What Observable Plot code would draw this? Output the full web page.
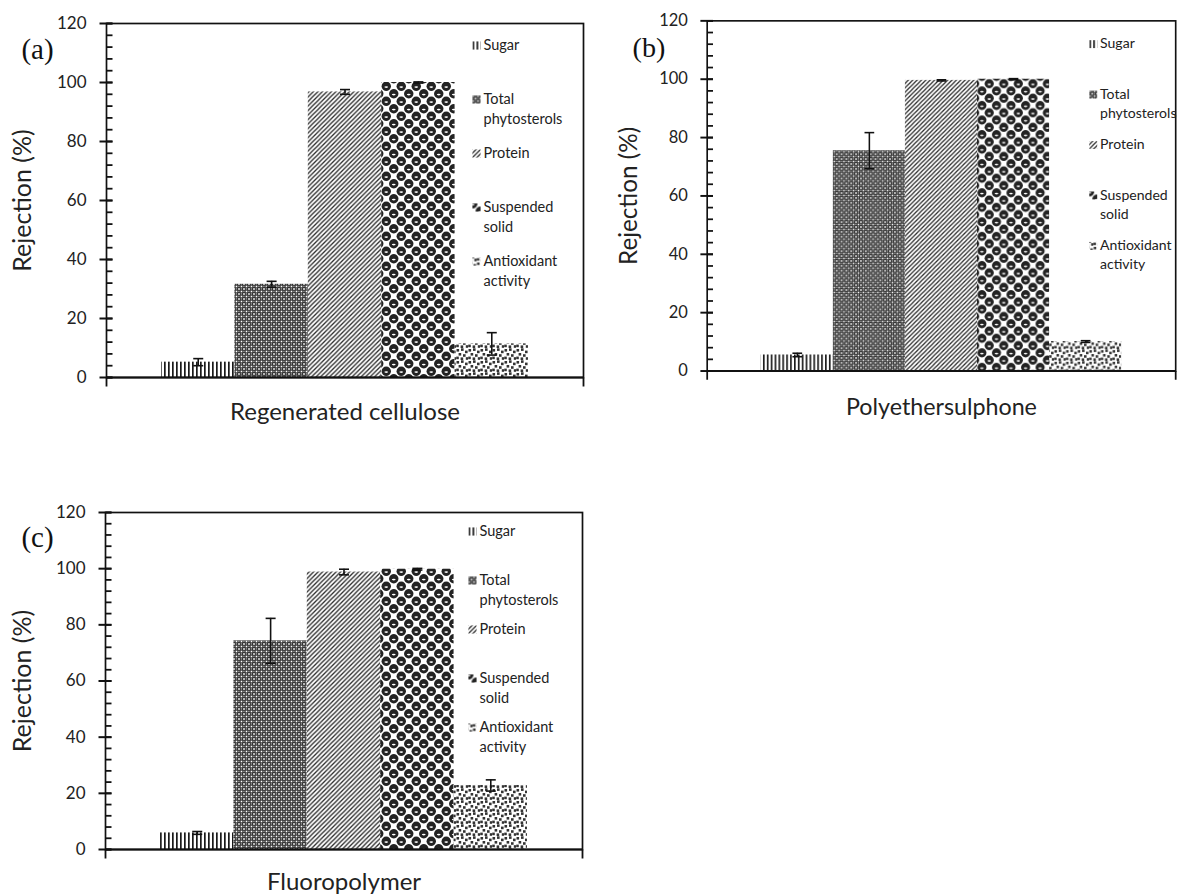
<!DOCTYPE html>
<html><head><meta charset="utf-8">
<script src="https://cdn.jsdelivr.net/npm/d3@7"></script>
<script src="https://cdn.jsdelivr.net/npm/@observablehq/plot@0.6"></script>
<style>
html,body{margin:0;padding:0;background:#fff;overflow:hidden;}
#root{position:relative;width:1182px;height:895px;overflow:hidden;background:#fff;}
.panel{position:absolute;}
.panel svg{overflow:visible;}
</style></head><body>
<svg width="0" height="0" style="position:absolute">
<defs>
  <pattern id="pSugar" width="4" height="4" patternUnits="userSpaceOnUse">
    <rect width="4" height="4" fill="#fff"/>
    <rect x="0" y="0" width="1.7" height="4" fill="#1a1a1a"/>
  </pattern>
  <pattern id="pPhyto" width="5" height="5" patternUnits="userSpaceOnUse">
    <rect width="5" height="5" fill="#333"/>
    <rect x="0.7" y="0.7" width="1.6" height="1.6" fill="#fff"/>
    <rect x="3.2" y="3.2" width="1.6" height="1.6" fill="#fff"/>
    <rect x="3.3" y="0.8" width="1.2" height="1.2" fill="#aaa"/>
    <rect x="0.8" y="3.3" width="1.2" height="1.2" fill="#aaa"/>
  </pattern>
  <pattern id="pProt" width="4.5" height="4.5" patternUnits="userSpaceOnUse">
    <rect width="4.5" height="4.5" fill="#fff"/>
    <path d="M-1,1 L1,-1 M0,4.5 L4.5,0 M3.5,5.5 L5.5,3.5" stroke="#2a2a2a" stroke-width="1.3"/>
  </pattern>
  <pattern id="pSS" width="15" height="15" patternUnits="userSpaceOnUse">
    <rect width="15" height="15" fill="#fff"/>
    <g fill="#232323">
      <circle cx="3.75" cy="3.75" r="4.7"/>
      <circle cx="18.75" cy="3.75" r="4.7"/>
      <circle cx="3.75" cy="18.75" r="4.7"/>
      <circle cx="18.75" cy="18.75" r="4.7"/>
      <circle cx="11.25" cy="11.25" r="4.7"/>
      <circle cx="-3.75" cy="11.25" r="4.7"/>
      <circle cx="11.25" cy="-3.75" r="4.7"/>
    </g>
    <g fill="#fff">
      <ellipse cx="3.75" cy="4.6" rx="1.9" ry="0.8"/>
      <ellipse cx="11.25" cy="12.1" rx="1.9" ry="0.8"/>
    </g>
  </pattern>
  <pattern id="pAO" width="12" height="12" patternUnits="userSpaceOnUse">
    <rect width="12" height="12" fill="#fff"/>
    <g fill="#333">
      <rect x="0.5" y="1" width="2.6" height="2.6"/>
      <rect x="5" y="0.3" width="2.6" height="2.6"/>
      <rect x="9" y="2.6" width="2.6" height="2.6"/>
      <rect x="2.6" y="5" width="2.6" height="2.6"/>
      <rect x="7" y="6.2" width="2.6" height="2.6"/>
      <rect x="0.2" y="8.6" width="2.6" height="2.6"/>
      <rect x="4.6" y="9.4" width="2.6" height="2.6"/>
      <rect x="9.8" y="9.2" width="2.2" height="2.6"/>
    </g>
  </pattern>
</defs></svg>
<div id="root"></div>
<script>
// ---- data ----
const series = ["Sugar", "Total phytosterols", "Protein", "Suspended solid", "Antioxidant activity"];
const legendLabels = ["Sugar", "Total\nphytosterols", "Protein", "Suspended\nsolid", "Antioxidant\nactivity"];
const membranes = ["Regenerated cellulose", "Polyethersulphone", "Fluoropolymer"];
const panelTags = ["(a)", "(b)", "(c)"];
const rcValues  = [5.2, 31.6, 96.8, 100.0, 11.4];
const rcErrors  = [1.2, 1.0, 0.8, 0.2, 3.8];
const pesValues = [5.5, 75.5, 99.6, 100.0, 10.1];
const pesErrors = [0.6, 6.2, 0.2, 0.2, 0.3];
const fpValues  = [5.9, 74.3, 98.8, 99.8, 22.8];
const fpErrors  = [0.5, 8.0, 1.0, 0.3, 2.0];
const yTicks = [0, 20, 40, 60, 80, 100, 120];
const yMinorTicks = d3.range(0, 121, 4);

// ---- style ----
const patternFills = ["url(#pSugar)", "url(#pPhyto)", "url(#pProt)", "url(#pSS)", "url(#pAO)"];
const gap = 0.75;
const xDomain = [0, series.length + 2 * gap];
const sans = "Lato, 'Open Sans', sans-serif";
const segment = (x0, y0, x1, y1) => ({draw(ctx) { ctx.moveTo(x0, y0); ctx.lineTo(x1, y1); }});
const capSymbol = segment(-5, 0, 5, 0);
const majorTickSymbol = segment(-7, 0, 6, 0);
const minorTickSymbol = segment(0, 0, 6, 0);
const edgeTickSymbol = segment(0, 0, 0, 9);
const ink = "#111";

function panel(cfg) {
  const rows = series.map((s, i) => ({s, i, v: cfg.values[i], e: cfg.errors[i], fill: patternFills[i]}));
  const xc = d => gap + d.i + 0.5;
  const marks = [
    Plot.rectY(rows, {x1: d => gap + d.i, x2: d => gap + d.i + 1, y1: 0, y2: d => d.v, fill: d => d.fill}),
    Plot.ruleX(rows, {x: xc, y1: d => d.v - d.e, y2: d => d.v + d.e, stroke: ink, strokeWidth: 1.6}),
    Plot.dot(rows, {x: xc, y: d => d.v + d.e, symbol: capSymbol, stroke: ink, strokeWidth: 1.6, fill: "none"}),
    Plot.dot(rows, {x: xc, y: d => d.v - d.e, symbol: capSymbol, stroke: ink, strokeWidth: 1.6, fill: "none"}),
    Plot.frame({stroke: ink, strokeWidth: 1.7}),
    Plot.ruleY([0], {y: d => d, stroke: ink, strokeWidth: 2.2}),
    Plot.dot(xDomain, {x: d => d, y: () => 0, symbol: edgeTickSymbol, stroke: ink, strokeWidth: 1.8, fill: "none"}),
    Plot.dot(yTicks, {x: () => xDomain[0], y: d => d, symbol: majorTickSymbol, stroke: ink, strokeWidth: 2, fill: "none"}),
    Plot.dot(yMinorTicks, {x: () => xDomain[0], y: d => d, symbol: minorTickSymbol, stroke: ink, strokeWidth: 1.8, fill: "none"}),
    Plot.axisY({ticks: yTicks, tickSize: 7, tickPadding: 13, fontSize: 17, fill: "#222", stroke: "none", label: null}),
    Plot.text([cfg.membrane], {text: d => d, frameAnchor: "bottom", textAnchor: "middle", lineAnchor: "middle", dy: cfg.xlabDy, fontSize: 24, fill: "#222"}),
    Plot.text(["Rejection (%)"], {text: d => d, frameAnchor: "left", textAnchor: "middle", lineAnchor: "middle", dx: cfg.ylabDx, rotate: -90, fontSize: 25, fill: "#222"}),
    Plot.text([cfg.tag], {text: d => d, frameAnchor: "top-left", textAnchor: "middle", lineAnchor: "middle", dx: cfg.tagDx, dy: cfg.tagDy, fontSize: 29, fontFamily: "'Liberation Serif', serif", fill: "#111"}),
    ...legendLabels.flatMap((lab, i) => [
      Plot.dot([lab], {frameAnchor: "top-left", dx: cfg.lg.sx, dy: cfg.lg.y0 + i * cfg.lg.step, symbol: "square", r: 4.6, fill: () => patternFills[i]}),
      Plot.text([lab], {text: d => d, frameAnchor: "top-left", dx: cfg.lg.tx, dy: cfg.lg.y0 + i * cfg.lg.step - 10, textAnchor: "start", lineAnchor: "top", lineHeight: 1.38, fontSize: 14.5, fill: "#222"})
    ])
  ];
  const svg = Plot.plot({
    width: cfg.width, height: cfg.height,
    marginLeft: cfg.m[0], marginRight: cfg.m[1], marginTop: cfg.m[2], marginBottom: cfg.m[3],
    x: {domain: xDomain, axis: null},
    y: {domain: [0, 120], axis: null},
    color: {type: "identity"},
    style: {fontFamily: sans, background: "transparent", overflow: "visible"},
    marks
  });
  const div = document.createElement("div");
  div.className = "panel";
  div.style.left = cfg.left + "px";
  div.style.top = cfg.top + "px";
  div.appendChild(svg);
  document.getElementById("root").appendChild(div);
}

panel({values: rcValues, errors: rcErrors, membrane: membranes[0], tag: panelTags[0],
  left: 0, top: 0, width: 600, height: 440, m: [106, 17, 23, 63],
  xlabDy: 35, ylabDx: -84, tagDx: -69, tagDy: 26,
  lg: {sx: 370, tx: 377, y0: 22, step: 54}});
panel({values: pesValues, errors: pesErrors, membrane: membranes[1], tag: panelTags[1],
  left: 600, top: 0, width: 600, height: 440, m: [110, 7, 21, 58],
  xlabDy: 38, ylabDx: -80, tagDx: -60, tagDy: 28,
  lg: {sx: 398, tx: 405, y0: 24, step: 52}});
panel({values: fpValues, errors: fpErrors, membrane: membranes[2], tag: panelTags[2],
  left: 0, top: 440, width: 600, height: 455, m: [105, 18, 72, 46],
  xlabDy: 33, ylabDx: -83, tagDx: -68, tagDy: 25,
  lg: {sx: 367, tx: 374, y0: 19, step: 49}});
</script>
</body></html>
